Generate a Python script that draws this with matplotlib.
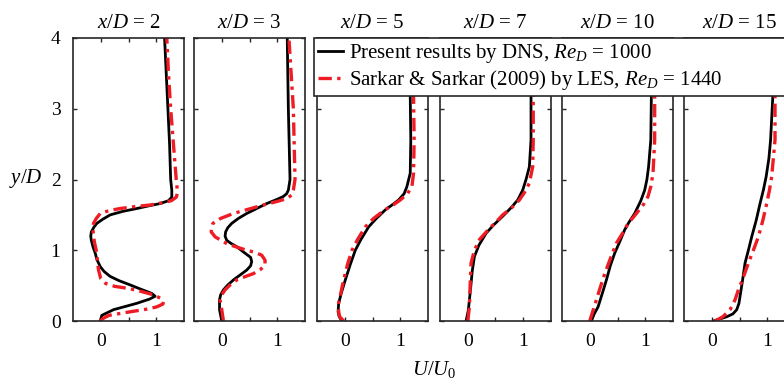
import matplotlib
matplotlib.use("Agg")
import matplotlib.pyplot as plt

plt.rcParams["font.family"] = "Liberation Serif"
plt.rcParams["mathtext.fontset"] = "custom"
plt.rcParams["mathtext.rm"] = "Liberation Serif"
plt.rcParams["mathtext.it"] = "Liberation Serif:italic"

# === Data (y/D, U/U0) ===
stations = ["2", "3", "5", "7", "10", "15"]

dns_y_2 = [0.0, 0.08, 0.16, 0.25, 0.31, 0.35, 0.39, 0.45, 0.51, 0.57, 0.63, 0.70, 0.77, 0.87, 0.96,
           1.05, 1.14, 1.20, 1.26, 1.33, 1.38, 1.44, 1.50, 1.55, 1.59, 1.63, 1.66, 1.70, 1.75, 1.85,
           2.0, 2.5, 3.0, 3.5, 4.0]
dns_u_2 = [-0.01, 0.02, 0.23, 0.65, 0.88, 0.98, 0.92, 0.72, 0.53, 0.33, 0.17, 0.06, -0.01, -0.07, -0.10,
           -0.14, -0.17, -0.18, -0.17, -0.12, -0.07, 0.04, 0.17, 0.40, 0.65, 0.88, 1.07, 1.22, 1.28, 1.28,
           1.26, 1.24, 1.21, 1.18, 1.15]
les_y_2 = [0.0, 0.04, 0.08, 0.13, 0.17, 0.20, 0.24, 0.28, 0.32, 0.37, 0.42, 0.46, 0.49, 0.53, 0.60,
           0.72, 0.85, 0.96, 1.10, 1.19, 1.30, 1.38, 1.45, 1.52, 1.56, 1.59, 1.62, 1.64, 1.67, 1.70,
           1.75, 1.80, 1.95, 2.0, 2.5, 3.0, 3.5, 4.0]
les_u_2 = [-0.01, 0.05, 0.15, 0.53, 0.85, 1.01, 1.12, 1.13, 1.08, 0.95, 0.72, 0.50, 0.25, 0.09, 0.0,
           -0.04, -0.06, -0.07, -0.11, -0.13, -0.14, -0.13, -0.08, -0.01, 0.15, 0.35, 0.65, 0.89, 1.10, 1.27,
           1.36, 1.38, 1.37, 1.36, 1.31, 1.26, 1.22, 1.19]

dns_y_3 = [0.0, 0.16, 0.30, 0.37, 0.44, 0.51, 0.58, 0.65, 0.72, 0.78, 0.84, 0.90, 0.97, 1.05, 1.10,
           1.14, 1.20, 1.26, 1.32, 1.38, 1.45, 1.52, 1.59, 1.66, 1.72, 1.76, 1.80, 1.85, 2.0, 3.0, 4.0]
dns_u_3 = [0.0, -0.04, -0.04, -0.02, 0.03, 0.11, 0.21, 0.33, 0.45, 0.52, 0.54, 0.52, 0.40, 0.27, 0.16,
           0.09, 0.06, 0.07, 0.11, 0.18, 0.30, 0.45, 0.63, 0.81, 1.00, 1.11, 1.17, 1.20, 1.23, 1.20, 1.18]
les_y_3 = [0.0, 0.16, 0.30, 0.37, 0.44, 0.51, 0.58, 0.63, 0.67, 0.73, 0.79, 0.86, 0.93, 0.97, 1.00,
           1.05, 1.09, 1.12, 1.19, 1.26, 1.32, 1.38, 1.45, 1.52, 1.58, 1.64, 1.69, 1.73, 1.78, 1.85,
           2.0, 3.0, 4.0]
les_u_3 = [0.03, 0.0, -0.03, 0.0, 0.06, 0.15, 0.27, 0.43, 0.57, 0.70, 0.78, 0.78, 0.72, 0.60, 0.45,
           0.25, 0.10, 0.03, -0.12, -0.19, -0.18, -0.16, -0.02, 0.21, 0.48, 0.75, 1.00, 1.17, 1.26, 1.29,
           1.32, 1.29, 1.21]

dns_y_5 = [0.0, 0.06, 0.13, 0.25, 0.40, 0.58, 0.80, 1.00, 1.15, 1.33, 1.45, 1.57, 1.65, 1.71, 1.80,
           1.90, 2.09, 2.56, 3.17, 4.0]
dns_u_5 = [-0.05, -0.10, -0.12, -0.11, -0.06, 0.01, 0.10, 0.19, 0.29, 0.43, 0.57, 0.73, 0.87, 0.97, 1.07,
           1.12, 1.18, 1.19, 1.18, 1.19]
les_y_5 = [0.0, 0.06, 0.13, 0.25, 0.40, 0.58, 0.80, 1.00, 1.15, 1.33, 1.45, 1.57, 1.65, 1.71, 1.80,
           1.90, 2.09, 2.56, 3.17, 4.0]
les_u_5 = [-0.02, -0.09, -0.11, -0.11, -0.07, -0.02, 0.05, 0.13, 0.23, 0.37, 0.52, 0.72, 0.89, 1.00, 1.13,
           1.21, 1.24, 1.25, 1.24, 1.24]

dns_y_7 = [0.0, 0.15, 0.30, 0.53, 0.70, 0.91, 1.07, 1.24, 1.36, 1.48, 1.60, 1.71, 1.85, 2.0, 2.18,
           2.56, 3.17, 4.0]
dns_u_7 = [-0.03, 0.01, 0.03, 0.06, 0.08, 0.12, 0.20, 0.33, 0.47, 0.63, 0.78, 0.90, 0.99, 1.05, 1.11,
           1.14, 1.14, 1.15]
les_y_7 = [0.0, 0.20, 0.44, 0.65, 0.82, 1.00, 1.15, 1.30, 1.40, 1.50, 1.60, 1.71, 1.85, 1.95, 2.18,
           2.56, 3.17, 4.0]
les_u_7 = [0.0, 0.03, 0.04, 0.05, 0.06, 0.12, 0.21, 0.38, 0.51, 0.63, 0.79, 0.93, 1.05, 1.11, 1.17,
           1.18, 1.18, 1.18]

dns_y_10 = [0.0, 0.10, 0.20, 0.40, 0.58, 0.78, 0.96, 1.12, 1.29, 1.40, 1.52, 1.70, 1.85, 2.0, 2.18,
            2.56, 3.17, 4.0]
dns_u_10 = [0.03, 0.08, 0.15, 0.23, 0.30, 0.37, 0.45, 0.54, 0.63, 0.71, 0.81, 0.92, 0.99, 1.03, 1.06,
            1.10, 1.11, 1.12]
les_y_10 = [0.0, 0.15, 0.30, 0.50, 0.67, 0.90, 1.10, 1.25, 1.38, 1.47, 1.55, 1.65, 1.76, 1.90, 2.09,
            2.56, 3.12, 4.0]
les_u_10 = [0.0, 0.06, 0.12, 0.20, 0.27, 0.38, 0.48, 0.60, 0.69, 0.79, 0.87, 0.97, 1.05, 1.10, 1.14,
            1.17, 1.17, 1.18]

dns_y_15 = [0.0, 0.03, 0.06, 0.10, 0.16, 0.25, 0.35, 0.55, 0.82, 1.00, 1.19, 1.42, 1.66, 1.85, 2.04,
            2.30, 2.56, 3.17, 4.0]
dns_u_15 = [0.03, 0.15, 0.27, 0.38, 0.45, 0.49, 0.51, 0.55, 0.60, 0.66, 0.72, 0.80, 0.87, 0.93, 0.98,
            1.03, 1.06, 1.10, 1.10]
les_y_15 = [0.0, 0.06, 0.16, 0.30, 0.44, 0.62, 0.82, 1.00, 1.19, 1.42, 1.66, 1.85, 2.04, 2.56, 3.12, 4.0]
les_u_15 = [0.06, 0.20, 0.33, 0.42, 0.48, 0.57, 0.66, 0.75, 0.84, 0.92, 0.99, 1.04, 1.08, 1.14, 1.14, 1.13]

dns_u = [dns_u_2, dns_u_3, dns_u_5, dns_u_7, dns_u_10, dns_u_15]
dns_y = [dns_y_2, dns_y_3, dns_y_5, dns_y_7, dns_y_10, dns_y_15]
les_u = [les_u_2, les_u_3, les_u_5, les_u_7, les_u_10, les_u_15]
les_y = [les_y_2, les_y_3, les_y_5, les_y_7, les_y_10, les_y_15]

# === Plot ===
W, H = 784, 388
fig = plt.figure(figsize=(W / 100, H / 100), dpi=100)
lefts = [73, 194, 317, 440, 562, 684]
ax_w, ax_top, ax_bot = 111, 38, 321
axc = "#262626"

for i, st in enumerate(stations):
    ax = fig.add_axes([lefts[i] / W, 1 - ax_bot / H, ax_w / W, (ax_bot - ax_top) / H])
    ax.plot(dns_u[i], dns_y[i], color="black", lw=2.0, solid_joinstyle="round",
            label=r"Present results by DNS, $Re_D$ = 1000")
    ax.plot(les_u[i], les_y[i], color="#ee1c24", lw=2.4, dashes=[4, 1.6, 1, 1.6],
            label=r"Sarkar & Sarkar (2009) by LES, $Re_D$ = 1440")
    ax.set_xlim(-0.5, 1.5)
    ax.set_ylim(0, 4)
    ax.set_xticks([0, 0.5, 1])
    ax.set_xticklabels(["0", "", "1"])
    ax.set_yticks([0, 1, 2, 3, 4])
    if i > 0:
        ax.set_yticklabels([])
    ax.tick_params(direction="in", top=True, right=True, length=3, width=1,
                   color=axc, labelsize=14, pad=9)
    for s in ax.spines.values():
        s.set_color(axc)
        s.set_linewidth(1.2)
    ax.set_title(r"$x/D$ = " + st, fontsize=15, pad=7)
    if i == 0:
        handles, labels = ax.get_legend_handles_labels()

fig.text(26 / W, 1 - 179 / H, r"$y/D$", fontsize=15, ha="center", va="center")
fig.text(434 / W, 1 - 370 / H, r"$U/U_0$", fontsize=15, ha="center", va="center")

# legend box runs past the right edge of the figure, as in the original
leg = fig.legend(handles, labels, loc="upper left",
                 bbox_to_anchor=(314 / W, 1 - 38 / H, 500 / W, 0), mode="expand",
                 fontsize=15, frameon=True, fancybox=False, framealpha=1, edgecolor=axc,
                 handlelength=1.2, handletextpad=0.3, borderpad=0.2, labelspacing=0.15,
                 borderaxespad=0)
leg.get_frame().set_linewidth(1.2)

fig.savefig("out.png", dpi=100)
